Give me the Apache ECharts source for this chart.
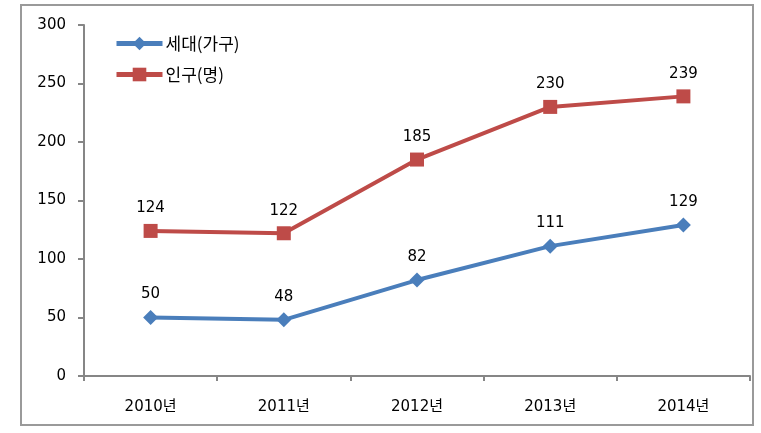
<!DOCTYPE html>
<html><head><meta charset="utf-8">
<script src="https://cdn.jsdelivr.net/npm/echarts@6/dist/echarts.min.js"></script>
<style>html,body{margin:0;padding:0;background:#fff}#c{width:761px;height:433px}</style>
</head><body><div id="c"></div>
<script>
const categories = ['2010년','2011년','2012년','2013년','2014년'];
const households = [50, 48, 82, 111, 129];
const population = [124, 122, 185, 230, 239];
const seriesNames = ['세대(가구)','인구(명)'];
const yTicks = {min:0, max:300, interval:50};

const font = "'DejaVu Sans', 'Noto Sans CJK KR', sans-serif";
const kfont = "'Noto Sans CJK KR', sans-serif";
const chart = echarts.init(document.getElementById('c'));
chart.setOption({
  animation:false,
  textStyle:{fontFamily:font},
  graphic:[{type:'rect', shape:{x:21,y:5,width:732,height:420}, style:{fill:'none', stroke:'#9a9a9a', lineWidth:2}, z:-1}],
  grid:{left:84, right:11, top:25, bottom:57},
  legend:{orient:'vertical', left:109, top:30, itemGap:14, itemWidth:46, itemHeight:17,
    lineStyle:{width:5},
    textStyle:{fontSize:17, color:'#000', fontFamily:kfont, padding:[0,0,0,-2]}},
  xAxis:{type:'category', data:categories, boundaryGap:true,
    axisLine:{lineStyle:{color:'#868686', width:2}},
    axisTick:{show:true, length:5, lineStyle:{color:'#868686', width:2}},
    axisLabel:{color:'#000', fontSize:15, margin:24, fontFamily:font}},
  yAxis:{type:'value', min:yTicks.min, max:yTicks.max, interval:yTicks.interval,
    splitLine:{show:false},
    axisLine:{show:true, lineStyle:{color:'#868686', width:2}},
    axisTick:{show:true, length:6, lineStyle:{color:'#868686', width:2}},
    axisLabel:{color:'#000', fontSize:15, margin:18, fontFamily:font}},
  series:[
    {name:seriesNames[0], type:'line', data:households, symbol:'diamond', symbolSize:15,
     lineStyle:{color:'#4A7EBB', width:4}, itemStyle:{color:'#4A7EBB'},
     label:{show:true, position:'top', distance:8, color:'#000', fontSize:15, fontFamily:font}},
    {name:seriesNames[1], type:'line', data:population, symbol:'rect', symbolSize:14,
     lineStyle:{color:'#BE4B48', width:4}, itemStyle:{color:'#BE4B48'},
     label:{show:true, position:'top', distance:8, color:'#000', fontSize:15, fontFamily:font}}
  ]
});
</script></body></html>
